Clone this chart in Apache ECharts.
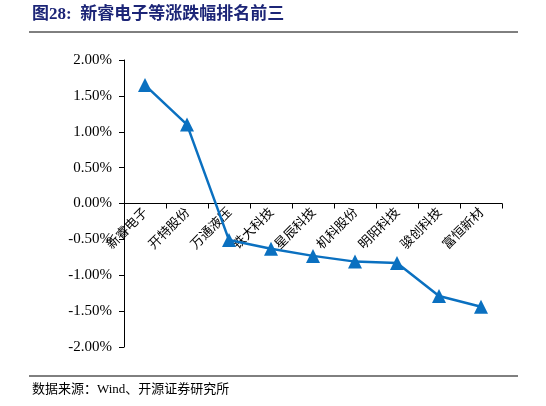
<!DOCTYPE html>
<html>
<head>
<meta charset="utf-8">
<script src="https://cdn.jsdelivr.net/npm/echarts@6/dist/echarts.min.js"></script>
<style>html,body{margin:0;padding:0;background:#fff}#main{width:546px;height:406px}</style>
</head>
<body>
<div id="main"></div>
<script>
// 数据
var categories = ['新睿电子', '开特股份', '万通液压', '铁大科技', '星辰科技', '机科股份', '明阳科技', '骏创科技', '富恒新材'];
var changes = [1.65, 1.10, -0.51, -0.63, -0.73, -0.81, -0.83, -1.29, -1.44];

var font = '"Liberation Serif", "Noto Sans CJK SC", serif';
var chart = echarts.init(document.getElementById('main'));
chart.setOption({
    animation: false,
    textStyle: { fontFamily: font },
    graphic: [
        { type: 'text', left: 32, top: 6, style: { text: '图28:  新睿电子等涨跌幅排名前三', fill: '#1c2577', font: 'bold 17px "Liberation Serif", "Noto Sans CJK SC"' } },
        { type: 'line', shape: { x1: 29, y1: 32, x2: 518, y2: 32 }, style: { stroke: '#000', lineWidth: 1 } },
        { type: 'line', shape: { x1: 29, y1: 376, x2: 518, y2: 376 }, style: { stroke: '#000', lineWidth: 1 } },
        { type: 'text', left: 32, top: 383, style: { text: '数据来源：Wind、开源证券研究所', fill: '#000', font: '13px "Liberation Serif", "Noto Sans CJK SC"' } }
    ],
    grid: { left: 124, right: 44, top: 60, bottom: 59 },
    xAxis: {
        type: 'category',
        data: categories,
        offset: -143.5,
        axisLine: { onZero: false, lineStyle: { color: '#000' } },
        axisTick: { show: true, length: 5, lineStyle: { color: '#000' } },
        axisLabel: { rotate: 45, color: '#000', fontSize: 13, margin: 6, interval: 0, fontFamily: '"Noto Sans CJK SC"' }
    },
    yAxis: {
        type: 'value',
        min: -2, max: 2, interval: 0.5,
        splitLine: { show: false },
        axisLine: { show: true, lineStyle: { color: '#000' } },
        axisTick: { show: true, length: 5, lineStyle: { color: '#000' } },
        axisLabel: { color: '#000', fontSize: 15, margin: 12, formatter: function (v) { return v.toFixed(2) + '%'; } }
    },
    series: [{
        type: 'line',
        data: changes,
        symbol: 'triangle',
        symbolSize: 14,
        lineStyle: { color: '#0a70c0', width: 2.5 },
        itemStyle: { color: '#0a70c0' }
    }]
});
</script>
</body>
</html>
